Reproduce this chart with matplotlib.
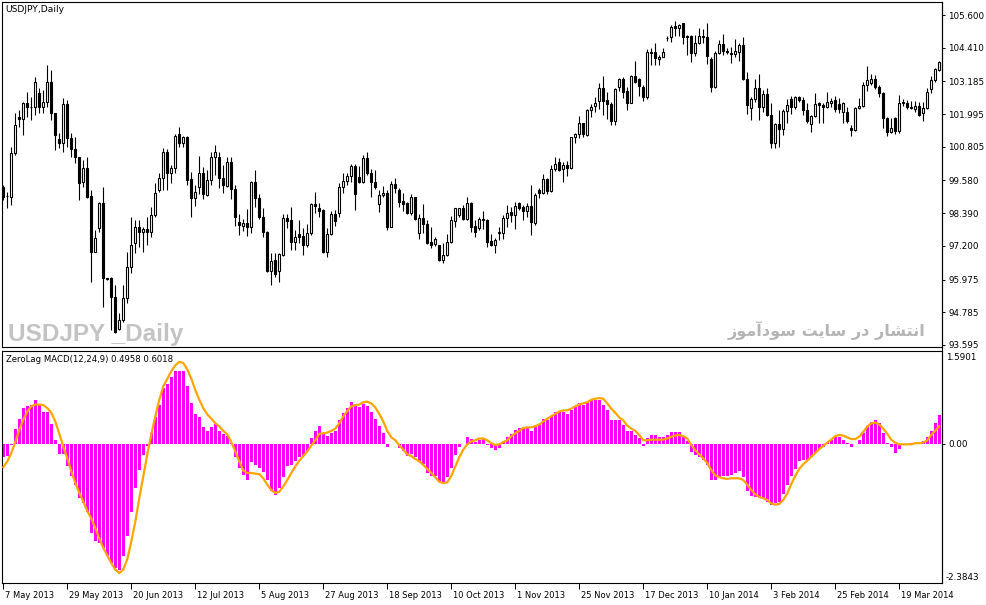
import numpy as np
import matplotlib
matplotlib.use("Agg")
import matplotlib.pyplot as plt
from matplotlib import font_manager
from matplotlib.transforms import ScaledTranslation

opens = [
    99.35, 99.03, 98.99, 100.57, 101.90, 101.81, 102.39, 102.24, 102.24, 102.75,
    102.24, 102.45, 103.17, 102.02, 101.08, 100.93, 102.35, 101.11, 100.71, 100.42,
    99.54, 100.02, 99.03, 96.99, 97.84, 98.75, 96.02, 96.02, 95.35, 94.17,
    94.50, 95.29, 96.44, 97.30, 97.90, 97.72, 97.80, 97.72, 98.32, 99.23,
    99.66, 100.63, 99.86, 100.02, 101.27, 100.95, 101.17, 99.62, 98.93, 99.33,
    99.86, 99.05, 99.60, 100.42, 100.42, 99.66, 99.38, 100.24, 99.26, 98.08,
    97.92, 98.02, 97.88, 99.54, 98.93, 98.26, 97.72, 96.30, 96.69, 96.30,
    96.87, 98.23, 98.14, 97.35, 97.63, 97.56, 97.23, 97.66, 98.72, 98.58,
    98.51, 96.99, 97.62, 98.36, 98.41, 99.33, 99.56, 99.74, 100.11, 99.72,
    99.54, 100.39, 99.86, 99.54, 98.71, 99.05, 99.14, 97.90, 99.45, 99.23,
    98.83, 98.77, 98.41, 98.97, 97.66, 98.20, 97.99, 97.35, 97.27, 97.23,
    96.69, 96.87, 97.33, 98.12, 98.32, 98.57, 98.17, 98.77, 97.92, 97.84,
    98.17, 98.14, 97.39, 97.23, 97.66, 97.68, 98.20, 98.44, 98.32, 98.77,
    98.60, 98.48, 98.65, 98.04, 99.23, 99.14, 99.62, 99.21, 99.99, 100.26,
    99.99, 100.14, 100.02, 101.15, 101.27, 101.66, 101.23, 102.14, 102.29, 102.48,
    102.93, 102.51, 102.36, 101.75, 102.99, 103.26, 102.85, 102.41, 103.38, 103.26,
    102.99, 102.63, 104.25, 104.24, 103.99, 104.08, 104.75, 104.79, 105.20, 105.12,
    105.30, 104.84, 104.84, 104.21, 104.57, 104.81, 104.79, 103.99, 102.97, 104.23,
    104.55, 104.30, 104.23, 104.18, 104.27, 104.51, 103.26, 102.20, 102.53, 102.93,
    102.27, 102.73, 101.96, 100.95, 101.63, 101.44, 102.12, 102.53, 102.24, 102.61,
    102.51, 102.14, 101.63, 101.93, 102.41, 102.33, 102.24, 102.41, 102.51, 102.36,
    102.08, 102.08, 101.48, 101.42, 102.21, 102.29, 103.05, 103.14, 103.26, 102.97,
    102.75, 101.84, 101.35, 101.84, 101.39, 102.41, 102.41, 102.27, 102.17, 102.29,
    102.05, 102.21, 102.90, 103.24, 103.60,
]
highs = [
    99.42, 99.17, 100.81, 102.02, 102.14, 102.45, 102.81, 102.63, 103.36, 102.93,
    102.87, 103.78, 103.60, 102.04, 101.30, 102.57, 102.51, 101.30, 101.17, 100.45,
    100.32, 100.45, 99.23, 97.78, 98.81, 99.35, 96.05, 96.08, 95.78, 94.75,
    95.78, 96.99, 98.26, 98.14, 98.14, 97.90, 98.26, 98.63, 99.48, 99.84,
    100.75, 100.71, 100.14, 101.27, 101.51, 101.20, 101.20, 99.90, 99.42, 100.47,
    100.06, 99.96, 100.63, 100.87, 100.63, 100.14, 100.42, 100.42, 99.42, 98.36,
    98.17, 98.53, 99.57, 99.96, 99.09, 98.57, 97.75, 96.95, 96.95, 96.95,
    98.36, 98.36, 98.63, 97.78, 98.14, 97.84, 97.99, 98.77, 99.17, 98.75,
    98.53, 97.84, 98.48, 98.51, 99.50, 99.84, 99.86, 100.18, 100.18, 100.11,
    100.51, 100.62, 99.99, 99.96, 99.23, 99.38, 99.23, 99.57, 99.66, 99.30,
    99.14, 98.81, 99.09, 98.99, 98.36, 98.72, 98.14, 97.88, 97.51, 97.25,
    97.30, 97.63, 98.29, 98.59, 98.59, 98.69, 98.99, 98.79, 98.14, 98.24,
    98.48, 98.17, 97.63, 97.48, 97.90, 98.32, 98.69, 98.60, 98.81, 98.81,
    98.69, 98.75, 99.42, 99.11, 99.30, 99.82, 99.66, 100.14, 100.45, 100.39,
    100.26, 100.29, 101.17, 101.32, 101.93, 101.68, 102.17, 102.36, 102.63, 103.14,
    103.38, 102.81, 102.45, 102.93, 103.32, 103.36, 102.99, 103.42, 103.93, 103.30,
    103.05, 104.35, 104.39, 104.59, 104.15, 104.39, 104.84, 105.24, 105.39, 105.27,
    105.32, 104.87, 104.86, 104.87, 105.12, 105.08, 105.30, 104.08, 104.30, 104.69,
    104.91, 104.39, 104.42, 104.72, 104.57, 104.79, 103.54, 102.61, 103.26, 103.45,
    102.87, 102.93, 102.39, 101.66, 102.14, 102.17, 102.53, 102.65, 102.65, 102.65,
    102.61, 102.39, 101.96, 102.75, 102.45, 102.39, 102.81, 102.57, 102.65, 102.57,
    102.45, 102.26, 101.60, 102.27, 102.57, 103.17, 103.74, 103.45, 103.42, 103.05,
    102.81, 101.90, 101.84, 101.90, 102.69, 102.53, 102.51, 102.48, 102.48, 102.45,
    102.45, 102.93, 103.38, 103.66, 103.94,
]
lows = [
    98.87, 98.57, 98.69, 100.51, 101.54, 101.23, 101.90, 101.78, 101.96, 102.02,
    102.02, 102.27, 101.78, 100.69, 100.75, 100.63, 100.81, 100.45, 100.20, 98.87,
    99.35, 98.93, 95.90, 96.97, 97.72, 94.99, 95.95, 94.14, 94.02, 94.14,
    94.44, 95.11, 96.20, 96.93, 97.17, 96.99, 97.23, 97.53, 98.26, 99.17,
    99.23, 99.23, 99.48, 99.86, 100.79, 100.79, 99.42, 98.26, 98.65, 99.09,
    98.90, 99.01, 99.42, 99.78, 99.30, 99.14, 99.33, 98.90, 97.92, 97.60,
    97.75, 97.56, 97.66, 98.63, 98.17, 97.53, 96.26, 95.78, 96.08, 95.90,
    96.83, 97.84, 97.05, 97.05, 97.30, 96.87, 97.17, 97.60, 98.39, 98.26,
    96.95, 96.81, 97.60, 97.92, 98.26, 99.11, 99.42, 99.54, 98.51, 99.48,
    99.48, 99.78, 98.99, 99.26, 98.44, 98.99, 97.78, 97.88, 99.11, 98.63,
    98.48, 98.36, 98.32, 98.14, 97.45, 97.66, 97.27, 97.11, 97.20, 96.66,
    96.57, 96.83, 97.30, 97.90, 98.26, 98.14, 98.14, 97.72, 97.53, 97.78,
    97.80, 97.17, 97.20, 96.93, 97.42, 97.44, 97.90, 98.08, 97.80, 98.51,
    98.14, 98.26, 97.60, 97.96, 98.93, 99.09, 99.09, 99.17, 99.94, 99.94,
    99.54, 99.74, 99.99, 100.93, 101.11, 101.15, 101.20, 101.90, 102.08, 102.17,
    101.96, 101.81, 101.60, 101.60, 102.85, 102.57, 102.14, 102.39, 103.11, 102.65,
    102.48, 102.53, 103.78, 103.78, 103.78, 104.06, 104.67, 104.63, 104.84, 104.84,
    104.55, 104.15, 103.90, 104.11, 104.55, 104.57, 103.82, 102.81, 102.93, 104.18,
    104.15, 104.18, 103.84, 104.08, 103.94, 103.24, 102.00, 101.78, 102.45, 101.78,
    102.08, 101.93, 100.75, 100.75, 100.81, 101.23, 101.68, 102.00, 102.17, 102.45,
    101.95, 101.66, 101.35, 101.90, 101.66, 101.68, 102.20, 102.24, 102.08, 102.02,
    101.68, 101.68, 101.20, 101.39, 102.17, 102.27, 102.85, 103.05, 102.90, 102.61,
    101.48, 101.20, 101.30, 101.27, 101.30, 102.29, 102.17, 102.17, 102.08, 101.93,
    101.75, 102.17, 102.77, 103.17, 103.57,
]
closes = [
    98.99, 99.01, 100.57, 101.60, 101.81, 102.41, 102.24, 102.26, 103.17, 102.24,
    102.45, 103.15, 102.02, 101.23, 100.93, 102.35, 101.11, 100.71, 100.42, 99.50,
    100.02, 98.99, 96.99, 97.50, 98.75, 96.02, 96.00, 95.35, 94.08, 94.50,
    95.29, 96.44, 97.23, 97.90, 97.72, 97.80, 97.72, 98.32, 99.11, 99.66,
    100.63, 99.86, 100.02, 101.20, 100.95, 101.15, 99.60, 98.95, 99.17, 99.84,
    99.08, 99.60, 100.42, 100.63, 99.66, 99.42, 100.24, 99.26, 98.26, 97.96,
    98.02, 97.88, 99.54, 98.93, 98.26, 97.72, 96.30, 96.66, 96.18, 96.91,
    98.20, 98.12, 97.35, 97.51, 97.53, 97.23, 97.66, 98.72, 98.66, 98.48,
    96.99, 97.62, 98.36, 98.12, 99.33, 99.56, 99.74, 100.11, 99.08, 99.54,
    100.39, 99.86, 99.54, 99.35, 99.05, 99.14, 97.90, 99.45, 99.32, 98.81,
    98.72, 98.41, 98.97, 98.18, 98.20, 97.99, 97.32, 97.23, 97.44, 96.69,
    96.87, 97.33, 98.14, 98.57, 98.57, 98.17, 98.77, 97.90, 97.72, 98.17,
    98.14, 97.35, 97.23, 97.42, 97.72, 98.20, 98.41, 98.32, 98.65, 98.57,
    98.48, 98.65, 98.08, 99.05, 99.14, 99.62, 99.21, 99.99, 100.18, 99.96,
    100.14, 100.02, 101.15, 101.27, 101.66, 101.27, 102.14, 102.27, 102.39, 102.93,
    102.48, 102.36, 101.75, 102.90, 103.26, 102.81, 102.41, 103.38, 103.17, 103.02,
    102.63, 104.26, 104.23, 104.05, 104.08, 104.26, 104.76, 105.15, 105.12, 105.24,
    104.79, 104.79, 104.21, 104.57, 104.84, 104.84, 104.11, 102.97, 104.23, 104.55,
    104.30, 104.25, 104.18, 104.30, 104.51, 103.26, 102.33, 102.53, 102.93, 102.27,
    102.73, 101.96, 100.95, 101.63, 101.44, 102.12, 102.33, 102.24, 102.61, 102.51,
    102.14, 101.75, 101.93, 102.36, 102.33, 102.24, 102.45, 102.48, 102.17, 102.17,
    102.41, 101.75, 101.42, 102.21, 102.29, 103.05, 103.24, 103.26, 102.97, 102.75,
    101.84, 101.35, 101.48, 101.39, 102.41, 102.43, 102.24, 102.21, 102.29, 101.96,
    102.21, 102.81, 103.24, 103.62, 103.90,
]

# ZeroLag MACD histogram and signal line
macd = [
    -0.23, -0.21, -0.02, 0.26, 0.43, 0.61, 0.64, 0.67, 0.75, 0.67,
    0.55, 0.55, 0.33, 0.06, -0.18, -0.18, -0.38, -0.55, -0.71, -0.93,
    -1.02, -1.16, -1.52, -1.67, -1.70, -1.78, -1.92, -2.04, -2.13, -2.15,
    -1.92, -1.57, -1.16, -0.75, -0.44, -0.20, -0.03, 0.18, 0.45, 0.67,
    0.95, 1.02, 1.14, 1.24, 1.24, 1.24, 0.98, 0.69, 0.51, 0.45,
    0.28, 0.22, 0.28, 0.33, 0.22, 0.16, 0.13, 0.01, -0.23, -0.42,
    -0.53, -0.62, -0.31, -0.37, -0.41, -0.48, -0.62, -0.80, -0.87, -0.75,
    -0.57, -0.38, -0.36, -0.29, -0.23, -0.20, -0.13, 0.09, 0.22, 0.30,
    0.16, 0.13, 0.18, 0.22, 0.40, 0.53, 0.61, 0.72, 0.66, 0.62,
    0.68, 0.64, 0.55, 0.43, 0.30, 0.19, -0.05, -0.01, -0.01, -0.07,
    -0.13, -0.21, -0.18, -0.23, -0.29, -0.35, -0.50, -0.55, -0.55, -0.65,
    -0.66, -0.57, -0.41, -0.20, -0.06, -0.01, 0.11, 0.08, 0.03, 0.06,
    0.08, -0.02, -0.07, -0.11, -0.07, 0.03, 0.11, 0.16, 0.24, 0.27,
    0.28, 0.27, 0.22, 0.30, 0.33, 0.43, 0.41, 0.48, 0.55, 0.55,
    0.55, 0.50, 0.58, 0.62, 0.69, 0.67, 0.72, 0.74, 0.75, 0.75,
    0.67, 0.58, 0.40, 0.40, 0.41, 0.32, 0.21, 0.21, 0.15, 0.09,
    -0.03, 0.09, 0.15, 0.15, 0.12, 0.12, 0.15, 0.20, 0.20, 0.20,
    0.13, 0.04, -0.14, -0.19, -0.22, -0.27, -0.36, -0.62, -0.62, -0.56,
    -0.55, -0.55, -0.54, -0.50, -0.46, -0.56, -0.80, -0.90, -0.91, -0.93,
    -0.95, -0.99, -1.04, -1.02, -0.99, -0.86, -0.70, -0.55, -0.43, -0.30,
    -0.28, -0.27, -0.23, -0.16, -0.09, -0.06, 0.02, 0.07, 0.12, 0.11,
    0.06, 0.02, -0.06, -0.01, 0.07, 0.18, 0.30, 0.38, 0.40, 0.36,
    0.18, 0.02, -0.06, -0.16, -0.09, -0.01, -0.01, 0.02, 0.02, 0.01,
    0.04, 0.11, 0.22, 0.36, 0.49,
]
signal = [
    -0.40, -0.30, -0.16, 0.03, 0.24, 0.41, 0.55, 0.64, 0.67, 0.67,
    0.66, 0.61, 0.53, 0.38, 0.17, -0.05, -0.25, -0.47, -0.67, -0.84,
    -0.99, -1.15, -1.28, -1.44, -1.62, -1.78, -1.91, -2.04, -2.15, -2.21,
    -2.15, -1.97, -1.67, -1.33, -0.93, -0.55, -0.18, 0.16, 0.47, 0.75,
    0.98, 1.11, 1.24, 1.34, 1.40, 1.38, 1.27, 1.11, 0.92, 0.75,
    0.61, 0.50, 0.43, 0.35, 0.30, 0.22, 0.16, 0.03, -0.13, -0.30,
    -0.46, -0.50, -0.50, -0.51, -0.52, -0.59, -0.70, -0.79, -0.84, -0.82,
    -0.73, -0.62, -0.50, -0.39, -0.29, -0.21, -0.13, -0.03, 0.06, 0.17,
    0.18, 0.19, 0.22, 0.26, 0.35, 0.47, 0.56, 0.64, 0.66, 0.67,
    0.71, 0.72, 0.69, 0.62, 0.51, 0.38, 0.22, 0.11, 0.06, -0.03,
    -0.10, -0.18, -0.21, -0.26, -0.30, -0.36, -0.43, -0.50, -0.57, -0.65,
    -0.67, -0.66, -0.55, -0.39, -0.23, -0.10, -0.01, 0.04, 0.06, 0.09,
    0.09, 0.06, 0.01, -0.02, -0.01, 0.03, 0.06, 0.13, 0.18, 0.22,
    0.27, 0.28, 0.28, 0.30, 0.33, 0.38, 0.43, 0.47, 0.51, 0.55,
    0.57, 0.57, 0.60, 0.64, 0.67, 0.69, 0.71, 0.75, 0.77, 0.78,
    0.77, 0.69, 0.60, 0.53, 0.45, 0.40, 0.31, 0.26, 0.22, 0.15,
    0.06, 0.06, 0.07, 0.07, 0.07, 0.07, 0.09, 0.12, 0.14, 0.15,
    0.13, 0.09, -0.02, -0.11, -0.18, -0.25, -0.33, -0.45, -0.54, -0.57,
    -0.59, -0.60, -0.59, -0.59, -0.59, -0.62, -0.70, -0.79, -0.86, -0.91,
    -0.93, -0.96, -1.02, -1.04, -1.03, -0.96, -0.85, -0.69, -0.55, -0.43,
    -0.35, -0.29, -0.22, -0.16, -0.09, -0.04, 0.02, 0.07, 0.13, 0.15,
    0.14, 0.11, 0.08, 0.08, 0.12, 0.20, 0.29, 0.35, 0.36, 0.33,
    0.26, 0.17, 0.07, 0.02, -0.01, -0.01, -0.01, -0.01, 0.01, 0.01,
    0.02, 0.06, 0.15, 0.22, 0.30,
]

price_ticks = [105.600, 104.410, 103.185, 101.995, 100.805, 99.580,
               98.390, 97.200, 95.975, 94.785, 93.595]
date_pos = [0, 16, 32, 48, 64, 80, 96, 112, 128, 144, 160, 176, 192, 208, 224]
date_labels = ["7 May 2013", "29 May 2013", "20 Jun 2013", "12 Jul 2013",
               "5 Aug 2013", "27 Aug 2013", "18 Sep 2013", "10 Oct 2013",
               "1 Nov 2013", "25 Nov 2013", "17 Dec 2013", "10 Jan 2014",
               "3 Feb 2014", "25 Feb 2014", "19 Mar 2014"]

# "انتشار در سایت سودآموز" in shaped forms, laid out left to right
site_text = ("\ufeaf\ufeee\ufee3\ufe81\ufea9\ufeee\ufeb3 "
             "\ufe96\ufef3\ufe8e\ufeb3 \ufead\ufea9 "
             "\ufead\ufe8e\ufeb8\ufe98\ufee7\ufe8d")

W, H = 987, 605
fig = plt.figure(figsize=(W / 100, H / 100), dpi=100)

def fx(px):
    return px / W

def fy(py):
    return 1 - py / H

ax1 = fig.add_axes([fx(2), fy(347.3), fx(940), 345.3 / H])
ax2 = fig.add_axes([fx(2), fy(583.3), fx(940), 232.6 / H])

o = np.array(opens)
h = np.array(highs)
l = np.array(lows)
c = np.array(closes)
x = np.arange(len(o))

ax1.vlines(x, l, h, color="black", lw=0.8, zorder=2)
bull = c >= o
face = np.where(bull, "white", "black")
ax1.bar(x, np.abs(c - o), bottom=np.minimum(o, c), width=0.5,
        color=face, edgecolor="black", lw=0.8, zorder=3)

ax1.set_xlim(-0.33, 234.7)
ax1.set_ylim(93.511, 106.073)
ax1.set_xticks([])
ax1.yaxis.tick_right()
ax1.set_yticks(price_ticks)
ax1.set_yticklabels(["%.3f" % p for p in price_ticks])
ax1.tick_params(axis="y", length=2.5, width=0.7, pad=2, labelsize=6.3)

# big grey watermark: narrow bold face if there is one
try:
    font_manager.findfont(font_manager.FontProperties(family="Liberation Sans Narrow"),
                          fallback_to_default=False)
    wm_family, wm_size = "Liberation Sans Narrow", 20
except ValueError:
    wm_family, wm_size = "Liberation Sans", 17.5

ax1.text(fx(5), fy(10), "USDJPY,Daily", transform=fig.transFigure,
         fontsize=6.6, va="center", ha="left")
ax1.text(fx(8), fy(341), "USDJPY _Daily", transform=fig.transFigure,
         fontsize=wm_size, fontweight="bold", family=wm_family,
         color="#c3c3c3", va="baseline", ha="left", zorder=1)
ax1.text(fx(925), fy(336), site_text, transform=fig.transFigure,
         fontsize=11.5, fontweight="bold", family=["DejaVu Sans"],
         color="#b5b5b5", va="baseline", ha="right", zorder=1)

ax2.bar(x, macd, width=0.75, color="#ff00ff", lw=0, zorder=2)
ax2.plot(x, signal, color="#ffa500", lw=1.6, zorder=3)
ax2.set_xlim(-0.33, 234.7)
ax2.set_ylim(-2.3843, 1.5901)
ax2.yaxis.tick_right()
ax2.set_yticks([0])
ax2.set_yticklabels(["0.00"])
ax2.tick_params(axis="y", length=2.5, width=0.7, pad=2, labelsize=6.3)
ax2.set_xticks(date_pos)
ax2.set_xticklabels(date_labels, ha="left")
ax2.tick_params(axis="x", length=4, width=0.7, pad=1.5, labelsize=6.0)
shift = ScaledTranslation(1.5 / 100, 0, fig.dpi_scale_trans)
for lab in ax2.get_xticklabels():
    lab.set_transform(lab.get_transform() + shift)

fig.text(fx(946), fy(357.3), "1.5901", fontsize=6.3, va="center", ha="left")
fig.text(fx(946), fy(577.3), "-2.3843", fontsize=6.3, va="center", ha="left")
ax2.text(fx(6), fy(359), "ZeroLag MACD(12,24,9) 0.4958 0.6018",
         transform=fig.transFigure, fontsize=6.1, va="center", ha="left")

for ax in (ax1, ax2):
    for sp in ax.spines.values():
        sp.set_linewidth(0.8)

# the right scale line runs through the gap between the two panels
fig.add_artist(plt.Line2D([fx(942), fx(942)], [fy(583.3), fy(2)],
                          color="black", lw=0.8))

fig.savefig("out.png", dpi=100)
